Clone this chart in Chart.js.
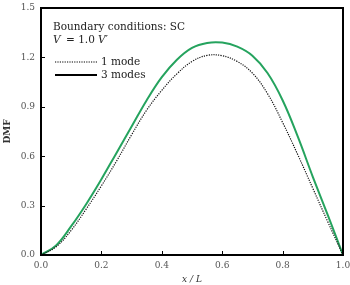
<!DOCTYPE html>
<html>
<head>
<meta charset="utf-8">
<script src="https://cdn.jsdelivr.net/npm/chart.js@4/dist/chart.umd.min.js"></script>
<style>
  html, body { margin: 0; padding: 0; background: #fff; }
  #wrap { width: 350px; height: 285px; }
</style>
</head>
<body>
<div id="wrap"><canvas id="dmf-chart" width="350" height="285"></canvas></div>
<script>
// x/L positions and DMF values
var xPos = [0, 0.05, 0.1, 0.15, 0.2, 0.25, 0.3, 0.35, 0.4, 0.45, 0.5,
            0.55, 0.6, 0.65, 0.7, 0.75, 0.8, 0.85, 0.9, 0.95, 1.0];
var oneMode = [0, 0.05, 0.15, 0.28, 0.42, 0.57, 0.73, 0.88, 1.0, 1.10, 1.175,
               1.212, 1.21, 1.175, 1.105, 0.98, 0.805, 0.61, 0.405, 0.2, 0];
var threeModes = [0, 0.058, 0.175, 0.31, 0.46, 0.62, 0.78, 0.94, 1.08, 1.186, 1.258,
                  1.288, 1.29, 1.265, 1.21, 1.105, 0.94, 0.72, 0.475, 0.24, 0];
var xTicks = [0, 0.2, 0.4, 0.6, 0.8, 1.0];
var yTicks = [0, 0.3, 0.6, 0.9, 1.2, 1.5];

var serif = '"DejaVu Serif", "Liberation Serif", serif';

function pts(ys) {
  return xPos.map(function (x, i) { return { x: x, y: ys[i] }; });
}

// frame, inward ticks and the in-plot legend
var framePlugin = {
  id: 'frame',
  afterDraw: function (chart) {
    var ctx = chart.ctx;
    var a = chart.chartArea;
    var xs = chart.scales.x, ys = chart.scales.y;
    ctx.save();
    ctx.strokeStyle = '#000';
    ctx.lineWidth = 1;
    xTicks.forEach(function (t) {
      var px = Math.round(xs.getPixelForValue(t)) + 0.5;
      ctx.beginPath(); ctx.moveTo(px, a.bottom); ctx.lineTo(px, a.bottom - 4); ctx.stroke();
    });
    yTicks.forEach(function (t) {
      var py = Math.round(ys.getPixelForValue(t)) + 0.5;
      ctx.beginPath(); ctx.moveTo(a.left, py); ctx.lineTo(a.left + 4, py); ctx.stroke();
    });
    ctx.lineWidth = 2;
    ctx.strokeRect(a.left, a.top, a.right - a.left, a.bottom - a.top);

    // legend block
    ctx.fillStyle = '#222';
    ctx.textBaseline = 'middle';
    ctx.font = '10.5px ' + serif;
    ctx.fillText('Boundary conditions: SC', 53, 27);
    ctx.font = 'italic 10.5px ' + serif;
    ctx.fillText('V', 53, 40);
    ctx.font = '10.5px ' + serif;
    ctx.fillText('= 1.0', 66, 40);
    ctx.font = 'italic 10.5px ' + serif;
    ctx.fillText('V\u2032', 98, 40);

    ctx.font = '10.5px ' + serif;
    ctx.lineWidth = 1.2;
    ctx.strokeStyle = '#000';
    ctx.setLineDash([1.2, 1.2]);
    ctx.beginPath(); ctx.moveTo(55, 62); ctx.lineTo(97, 62); ctx.stroke();
    ctx.setLineDash([]);
    ctx.lineWidth = 1.8;
    ctx.beginPath(); ctx.moveTo(55, 75); ctx.lineTo(97, 75); ctx.stroke();
    ctx.fillText(chart.data.datasets[0].label, 101, 62);
    ctx.fillText(chart.data.datasets[1].label, 101, 75);
    ctx.restore();
  }
};

var chart = new Chart(document.getElementById('dmf-chart'), {
  type: 'line',
  data: {
    datasets: [
      {
        label: '1 mode',
        data: pts(oneMode),
        borderColor: '#111',
        borderWidth: 1.2,
        borderDash: [1.2, 1.2],
        pointRadius: 0,
        tension: 0.4,
        fill: false
      },
      {
        label: '3 modes',
        data: pts(threeModes),
        borderColor: '#25a35e',
        borderWidth: 2,
        pointRadius: 0,
        tension: 0.4,
        fill: false
      }
    ]
  },
  options: {
    responsive: false,
    animation: false,
    layout: { padding: { top: 8, right: 7, left: 0, bottom: 0 } },
    plugins: {
      legend: { display: false },
      tooltip: { enabled: false }
    },
    scales: {
      x: {
        type: 'linear',
        min: 0, max: 1,
        afterBuildTicks: function (s) { s.ticks = xTicks.map(function (v) { return { value: v }; }); },
        afterFit: function (s) { s.height = 30; s.paddingRight = 0; s.paddingLeft = 0; },
        grid: { display: false, drawTicks: false },
        border: { display: false },
        ticks: {
          padding: 5,
          color: '#555',
          font: { family: serif, size: 9 },
          maxRotation: 0,
          callback: function (v) { return v.toFixed(1); }
        },
        title: {
          display: true,
          text: 'x / L',
          color: '#333',
          padding: { top: 2, bottom: 0 },
          font: { family: serif, size: 9, style: 'italic' }
        }
      },
      y: {
        min: 0, max: 1.5,
        afterBuildTicks: function (s) { s.ticks = yTicks.map(function (v) { return { value: v }; }); },
        afterFit: function (s) { s.width = 41; s.paddingTop = 0; s.paddingBottom = 0; },
        grid: { display: false, drawTicks: false },
        border: { display: false },
        ticks: {
          padding: 6,
          color: '#555',
          font: { family: serif, size: 9 },
          callback: function (v) { return v.toFixed(1); }
        },
        title: {
          display: true,
          text: 'DMF',
          color: '#333',
          padding: { top: 2, bottom: 0 },
          font: { family: serif, size: 9, weight: 'bold' }
        }
      }
    }
  },
  plugins: [framePlugin]
});
</script>
</body>
</html>
